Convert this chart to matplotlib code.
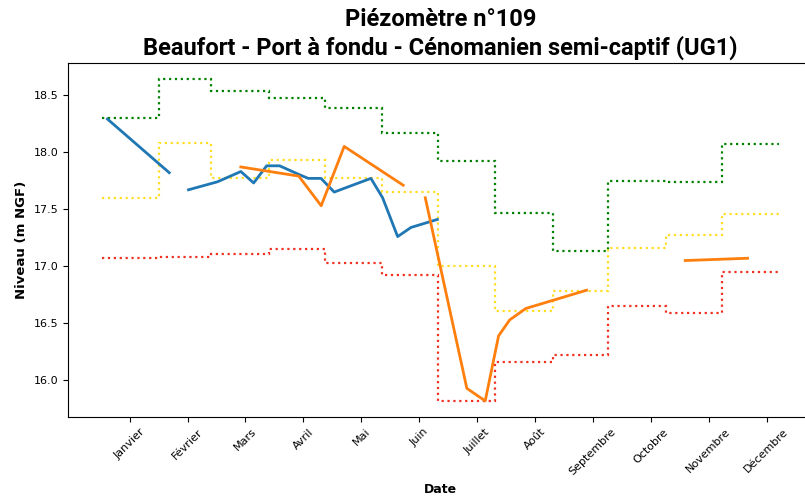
import numpy as np
import matplotlib
matplotlib.use("Agg")
import matplotlib.pyplot as plt

# ---- data ----
month_names = ["Janvier", "Février", "Mars", "Avril", "Mai", "Juin", "Juillet",
               "Août", "Septembre", "Octobre", "Novembre", "Décembre"]
month_edges = [0, 31, 59, 90, 120, 151, 181, 212, 243, 273, 304, 334, 365]  # day of year

green_levels = [18.30, 18.64, 18.54, 18.47, 18.39, 18.17, 17.92, 17.47, 17.13, 17.75, 17.74, 18.07]
yellow_levels = [17.60, 18.08, 17.77, 17.93, 17.77, 17.65, 17.00, 16.61, 16.78, 17.16, 17.27, 17.46]
red_levels = [17.07, 17.085, 17.11, 17.15, 17.03, 16.92, 15.82, 16.16, 16.22, 16.65, 16.59, 16.95]

nan = np.nan
blue_days = [3.0, 36.3, nan, 46.7, 62.3, 74.9, 81.8, 88.8, 95.8, 105.4, 111.2, 118.1,
             125.2, 145.0, 151.3, 159.4, 166.6, 180.8]
blue_vals = [18.29, 17.82, nan, 17.67, 17.74, 17.83, 17.73, 17.88, 17.88, 17.81, 17.77, 17.77,
             17.65, 17.77, 17.60, 17.26, 17.34, 17.41]

orange_days = [74.9, 106.1, 118.2, 130.6, 162.4, nan, 174.3, 196.7, 206.6, 213.8, 219.8,
               228.5, 261.2, nan, 314.4, 348.0]
orange_vals = [17.87, 17.79, 17.53, 18.05, 17.71, nan, 17.60, 15.93, 15.82, 16.39, 16.53,
               16.63, 16.79, nan, 17.05, 17.07]

tick_days = 15 + 31.2 * np.arange(12)

# ---- figure ----
fig = plt.figure(figsize=(8.05, 4.99), dpi=100)
ax = fig.add_axes([68 / 805, (499 - 417) / 499, 745 / 805, (417 - 63) / 499])

ax.plot(blue_days, blue_vals, color="#1f77b4", lw=2.0)
ax.stairs(green_levels, month_edges, baseline=None, color="green", ls=":", lw=1.6)
ax.stairs(yellow_levels, month_edges, baseline=None, color="#ffdd22", ls=":", lw=1.6)
ax.stairs(red_levels, month_edges, baseline=None, color="#f03020", ls=":", lw=1.6)
ax.plot(orange_days, orange_vals, color="#ff7f0e", lw=2.0)

ax.set_xlim(-18.25, 383.25)
ax.set_ylim(15.679, 18.781)
ax.set_yticks([16.0, 16.5, 17.0, 17.5, 18.0, 18.5])
ax.set_xticks(tick_days)
ax.set_xticklabels(month_names, rotation=45, fontsize=8)
ax.tick_params(axis="y", labelsize=8)

ax.set_ylabel("Niveau (m NGF)", fontsize=9.5, fontweight="bold")
ax.set_xlabel("Date", fontsize=9, fontweight="bold")
ax.set_title("Piézomètre n°109\nBeaufort - Port à fondu - Cénomanien semi-captif (UG1)",
             fontsize=17, fontweight="bold", family="Roboto", pad=6, linespacing=1.25)

fig.savefig("out.png", dpi=100)
